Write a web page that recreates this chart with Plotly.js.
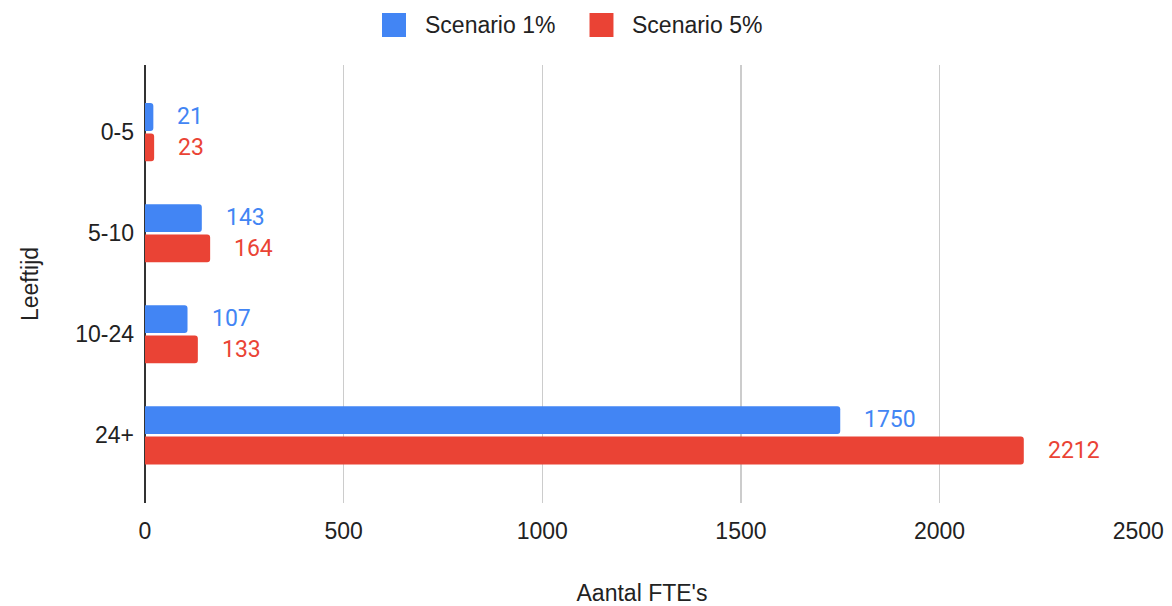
<!DOCTYPE html>
<html>
<head>
<meta charset="utf-8">
<script src="https://cdn.plot.ly/plotly-3.0.1.min.js"></script>
<style>html,body{margin:0;padding:0;background:#fff;}#chart{width:1172px;height:606px;}</style>
</head>
<body>
<div id="chart"></div>
<script>
var categories = ['0-5', '5-10', '10-24', '24+'];
var scenario1 = [21, 143, 107, 1750];
var scenario5 = [23, 164, 133, 2212];
var seriesNames = ['Scenario 1%', 'Scenario 5%'];
var xTicks = [0, 500, 1000, 1500, 2000, 2500];

var BLUE = '#4285F4', RED = '#EA4335';
var FONT = '"Liberation Sans", Arial, sans-serif';
var LABEL_FONT = 'Roboto, Arial, sans-serif';

var traces = [
  {type: 'bar', orientation: 'h', name: seriesNames[0], y: categories, x: scenario1,
   marker: {color: BLUE}, hoverinfo: 'x+name', showlegend: false},
  {type: 'bar', orientation: 'h', name: seriesNames[1], y: categories, x: scenario5,
   marker: {color: RED}, hoverinfo: 'x+name', showlegend: false}
];

var annotations = [];
categories.forEach(function (c, i) {
  annotations.push({x: scenario1[i], y: c, xref: 'x', yref: 'y', text: String(scenario1[i]),
    showarrow: false, xanchor: 'left', yanchor: 'middle', xshift: 22, yshift: 16,
    font: {family: LABEL_FONT, size: 23, color: BLUE}});
  annotations.push({x: scenario5[i], y: c, xref: 'x', yref: 'y', text: String(scenario5[i]),
    showarrow: false, xanchor: 'left', yanchor: 'middle', xshift: 22, yshift: -15,
    font: {family: LABEL_FONT, size: 23, color: RED}});
});
// legend text
annotations.push({xref: 'paper', yref: 'paper', x: 0.2797, y: 1.0913, xanchor: 'left', yanchor: 'middle',
  text: seriesNames[0], showarrow: false, font: {family: FONT, size: 23, color: '#222'}});
annotations.push({xref: 'paper', yref: 'paper', x: 0.4879, y: 1.0913, xanchor: 'left', yanchor: 'middle',
  text: seriesNames[1], showarrow: false, font: {family: FONT, size: 23, color: '#222'}});

var shapes = [
  {type: 'rect', xref: 'paper', yref: 'paper', x0: 0.2384, x1: 0.2626, y0: 1.0639, y1: 1.1187,
   fillcolor: BLUE, line: {width: 0}},
  {type: 'rect', xref: 'paper', yref: 'paper', x0: 0.4472, x1: 0.4713, y0: 1.0639, y1: 1.1187,
   fillcolor: RED, line: {width: 0}}
];

var layout = {
  width: 1172, height: 606,
  margin: {l: 145, r: 33, t: 65, b: 103},
  paper_bgcolor: '#fff', plot_bgcolor: '#fff',
  font: {family: FONT, size: 23, color: '#222'},
  barmode: 'group', bargap: 0.4, bargroupgap: 0.08, barcornerradius: 3,
  showlegend: false,
  xaxis: {
    range: [0, 2502], tickvals: xTicks, ticktext: xTicks.map(String),
    showgrid: true, gridcolor: '#cccccc', gridwidth: 1.5,
    zeroline: true, zerolinecolor: '#333333', zerolinewidth: 1.5,
    showline: false, ticks: '', ticklabelstandoff: 12,
    tickfont: {family: FONT, size: 23, color: '#222'},
    title: {text: "Aantal FTE's", font: {family: FONT, size: 23, color: '#222'}, standoff: 43}
  },
  yaxis: {
    type: 'category', range: [3.67, -0.665],
    showgrid: false, zeroline: false, showline: false, ticks: '', ticklabelstandoff: 10,
    tickfont: {family: FONT, size: 23, color: '#222'},
    title: {text: 'Leeftijd', font: {family: FONT, size: 23, color: '#222'}, standoff: 30}
  },
  annotations: annotations,
  shapes: shapes
};

Plotly.newPlot('chart', traces, layout, {displayModeBar: false, staticPlot: true});
</script>
</body>
</html>
